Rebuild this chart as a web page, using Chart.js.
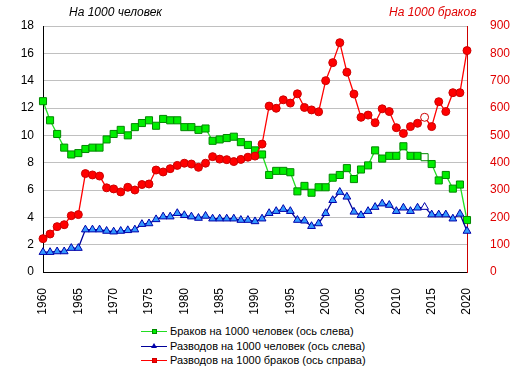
<!DOCTYPE html>
<html lang="ru">
<head>
  <meta charset="UTF-8">
  <title>Браки и разводы</title>

  <!-- Chart.js для графика -->
  <script src="https://cdn.jsdelivr.net/npm/chart.js"></script>

  <style>
    body { margin: 0; background: #fff; font-family: Arial, "Liberation Sans", sans-serif; }
    #wrap { position: relative; width: 514px; height: 374px; }
    canvas { position: absolute; left: 0; top: 0; }

    /* подписи осей сверху */
    .axisTitle { position: absolute; top: 5px; font-size: 12px; font-style: italic; white-space: nowrap; }

    /* легенда */
    .row { position: absolute; left: 141px; font-size: 11px; color: #000; white-space: nowrap; height: 14px; line-height: 14px; }
    .sample { display: inline-block; position: relative; width: 26px; height: 14px; vertical-align: top; margin-right: 3px; }
    .sample .ln { position: absolute; left: 0; right: 0; top: 7px; height: 1px; }
    .sample .mk { position: absolute; left: 11px; top: 5px; width: 3px; height: 3px; }
  </style>
</head>
<body>
<div id="wrap">
  <canvas id="chart" width="514" height="316"></canvas>

  <div class="axisTitle" style="left:69px;">На 1000 человек</div>
  <div class="axisTitle" style="left:389px; color:#e00000;">На 1000 браков</div>

  <div id="legend"></div>
</div>

<script>
// годы по оси X
const years = [];
for (let y = 1960; y <= 2020; y++) years.push(y);

// Браков на 1000 человек (ось слева)
const marriages = [
  12.5, 11.1, 10.1, 9.1, 8.6, 8.7, 9.0, 9.1, 9.1, 9.7,
  10.1, 10.4, 10.0, 10.6, 10.9, 11.1, 10.7, 11.2, 11.1, 11.1,
  10.6, 10.6, 10.4, 10.5, 9.6, 9.7, 9.8, 9.9, 9.5, 9.3,
  8.9, 8.6, 7.1, 7.4, 7.4, 7.3, 5.9, 6.3, 5.8, 6.2,
  6.2, 6.9, 7.1, 7.6, 6.8, 7.5, 7.8, 8.9, 8.3, 8.5,
  8.5, 9.2, 8.5, 8.5, 8.4, 7.9, 6.7, 7.1, 6.1, 6.4,
  3.8
];

// Разводов на 1000 человек (ось слева)
const divorces = [
  1.45, 1.45, 1.5, 1.5, 1.75, 1.75, 3.1, 3.1, 3.1, 3.0,
  2.95, 3.0, 3.05, 3.1, 3.5, 3.55, 3.85, 4.05, 4.05, 4.3,
  4.15, 4.05, 3.95, 4.1, 3.9, 3.9, 3.9, 3.9, 3.8, 3.8,
  3.7, 3.9, 4.3, 4.45, 4.6, 4.45, 3.8, 3.75, 3.35, 3.55,
  4.3, 5.25, 5.85, 5.5, 4.4, 4.15, 4.45, 4.75, 5.0, 4.9,
  4.45, 4.7, 4.45, 4.7, 4.75, 4.2, 4.2, 4.2, 3.9, 4.25,
  3.0
];

// Разводов на 1000 браков (ось справа)
const perMarriages = [
  122, 139, 166, 173, 206, 210, 360, 355, 351, 308,
  304, 293, 310, 300, 320, 322, 373, 366, 378, 390,
  398, 395, 383, 398, 422, 413, 411, 404, 412, 420,
  424, 468, 607, 599, 630, 618, 652, 602, 593, 586,
  700, 766, 839, 731, 651, 566, 574, 546, 597, 587,
  528, 507, 532, 544, 566, 532, 623, 587, 656, 656,
  810
];

// год с пустыми маркерами
const hollowYear = 2014;

const leftTicks = [0, 2, 4, 6, 8, 10, 12, 14, 16, 18];
const rightTicks = [0, 100, 200, 300, 400, 500, 600, 700, 800, 900];

// цвета заливки маркеров (2014 год - белый)
function fills(color) {
  return years.map(y => y === hollowYear ? '#ffffff' : color);
}

const series = [
  { label: 'Браков на 1000 человек (ось слева)', data: marriages, axis: 'y',
    line: '#22dd22', fill: '#00ee00', edge: '#008800', style: 'rect', r: 5, order: 2 },
  { label: 'Разводов на 1000 человек (ось слева)', data: divorces, axis: 'y',
    line: '#000099', fill: '#3399ff', edge: '#0000aa', style: 'triangle', r: 4.5, order: 1 },
  { label: 'Разводов на 1000 браков (ось справа)', data: perMarriages, axis: 'y1',
    line: '#ff0000', fill: '#ff0000', edge: '#cc0000', style: 'circle', r: 4, order: 0 }
];

const font = { family: 'Arial, "Liberation Sans", sans-serif', size: 12 };

const chart = new Chart(document.getElementById('chart').getContext('2d'), {
  type: 'line',
  data: {
    labels: years.map(String),
    datasets: series.map(s => ({
      label: s.label,
      data: s.data,
      yAxisID: s.axis,
      borderColor: s.line,
      borderWidth: 1.3,
      pointStyle: s.style,
      pointRadius: s.r,
      pointBackgroundColor: fills(s.fill),
      pointBorderColor: s.edge,
      pointBorderWidth: 1,
      tension: 0,
      order: s.order
    }))
  },
  options: {
    responsive: false,
    devicePixelRatio: 1,
    animation: false,
    layout: { padding: { top: 26, left: 0, right: 0, bottom: 0 } },
    plugins: { legend: { display: false }, tooltip: { enabled: false } },
    scales: {
      x: {
        offset: false,
        grid: { display: false },
        border: { color: '#000', width: 1 },
        ticks: {
          autoSkip: false, minRotation: 90, maxRotation: 90, padding: 8,
          color: '#000', font: font,
          callback: (v, i) => years[i] % 5 === 0 ? String(years[i]) : ''
        },
        afterFit: s => { s.height = 44; }
      },
      y: {
        position: 'left', min: 0, max: 18,
        grid: { color: '#c0c0c0', drawTicks: false },
        border: { color: '#000', width: 1 },
        afterBuildTicks: s => { s.ticks = leftTicks.map(v => ({ value: v })); },
        ticks: { color: '#000', font: font, padding: 9 },
        afterFit: s => { s.width = 43; }
      },
      y1: {
        position: 'right', min: 0, max: 900,
        grid: { display: false },
        border: { color: '#cc0000', width: 1 },
        afterBuildTicks: s => { s.ticks = rightTicks.map(v => ({ value: v })); },
        ticks: { color: '#e00000', font: font, padding: 15 },
        afterFit: s => { s.width = 47; }
      }
    }
  }
});

// легенда столбиком под графиком
function buildLegend() {
  const box = document.getElementById('legend');
  const shapes = {
    rect: (s) => `background:${s.fill};border:1px solid ${s.edge};`,
    triangle: (s) => `width:0;height:0;left:10px;top:4px;border-left:3px solid transparent;border-right:3px solid transparent;border-bottom:5px solid ${s.edge};`,
    circle: (s) => `background:${s.fill};border:1px solid ${s.edge};`
  };
  series.forEach((s, i) => {
    const row = document.createElement('div');
    row.className = 'row';
    row.style.top = (324 + i * 14.5) + 'px';
    row.innerHTML = `<span class="sample"><span class="ln" style="background:${s.line}"></span>` +
      `<span class="mk" style="${shapes[s.style](s)}"></span></span>${s.label}`;
    box.appendChild(row);
  });
}
buildLegend();
</script>
</body>
</html>
